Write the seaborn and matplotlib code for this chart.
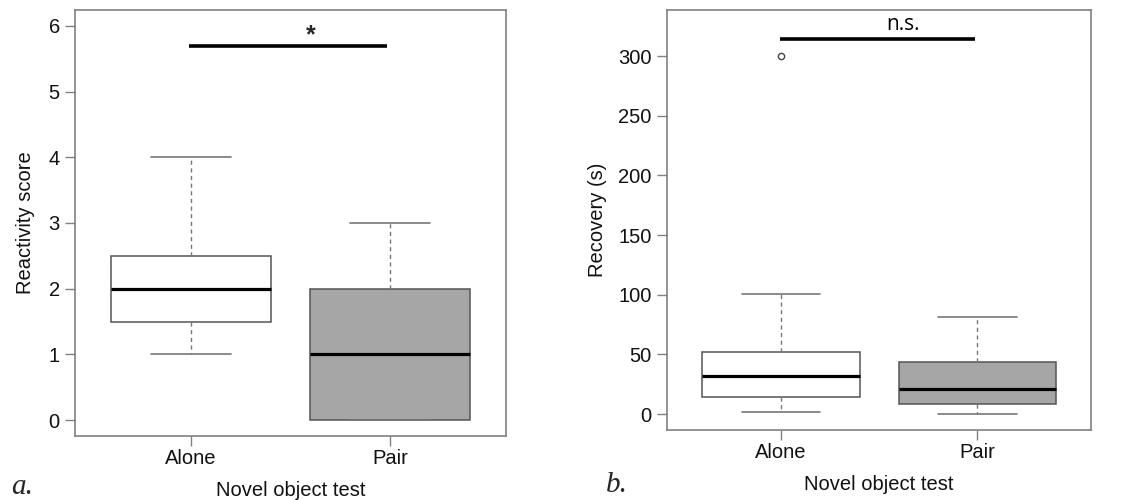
import pandas as pd
import seaborn as sns
import matplotlib
matplotlib.use("Agg")
import matplotlib.pyplot as plt

groups = ["Alone", "Pair"]
reactivity_alone = [1, 1, 2, 2, 2, 3, 4]
reactivity_pair = [0, 0, 0, 1, 2, 2, 3]
recovery_alone = [2, 8, 14, 25, 32, 45, 52, 101, 300]
recovery_pair = [0, 5, 8, 15, 21, 30, 44, 60, 81]
box_colors = ["white", "#a6a6a6"]

def long_df(a, b):
    return pd.DataFrame({
        "group": [groups[0]] * len(a) + [groups[1]] * len(b),
        "value": list(a) + list(b),
    })

df_react = long_df(reactivity_alone, reactivity_pair)
df_rec = long_df(recovery_alone, recovery_pair)

sns.set_style("white")
plt.rcParams['font.family'] = ['Liberation Sans', 'DejaVu Sans']
FS = 14.5

fig = plt.figure(figsize=(11.44, 5), dpi=100)
ax1 = fig.add_axes([0.0656, 0.128, 0.3766, 0.852])
ax2 = fig.add_axes([0.583, 0.140, 0.371, 0.840])

def draw(ax, df):
    sns.boxplot(
        data=df, x="group", y="value", hue="group", palette=box_colors,
        width=0.8, linecolor="#555555", linewidth=1.1, legend=False, ax=ax,
        medianprops=dict(color="black", linewidth=2.3),
        whiskerprops=dict(color="#777777", linestyle=(0, (3, 2.5)), linewidth=1),
        capprops=dict(color="#777777", linewidth=1.2),
        flierprops=dict(marker="o", markerfacecolor="white",
                        markeredgecolor="#444444", markersize=4.5, markeredgewidth=1),
    )
    ax.set_xlim(-0.58, 1.58)
    for s in ax.spines.values():
        s.set_color("#808080")
        s.set_linewidth(1.2)
        s.set_visible(True)
    ax.tick_params(axis="both", direction="out", length=7, width=1,
                   color="#808080", labelsize=FS, labelcolor="#111111", pad=4,
                   left=True, bottom=True)
    ax.tick_params(axis="x", pad=2)
    ax.set_xlabel("Novel object test", fontsize=FS, labelpad=10, color="#111111")

draw(ax1, df_react)
ax1.set_ylim(-0.24, 6.24)
ax1.set_yticks(range(0, 7))
ax1.set_ylabel("Reactivity score", fontsize=FS, labelpad=10, color="#111111")
ax1.plot([-0.01, 0.985], [5.7, 5.7], color="black", lw=2.6, solid_capstyle="butt")
ax1.text(0.6, 5.85, "*", ha="center", va="center", fontsize=18, fontweight="bold")

draw(ax2, df_rec)
ax2.set_ylim(-13.4, 338.6)
ax2.set_yticks(range(0, 301, 50))
ax2.set_ylabel("Recovery (s)", fontsize=FS, labelpad=8, color="#111111")
ax2.plot([-0.005, 0.99], [314, 314], color="black", lw=2.6, solid_capstyle="butt")
ax2.text(0.62, 318, "n.s.", ha="center", va="bottom", fontsize=15,
         family="Open Sans", color="black")

fig.text(0.010, 0.012, "a.", fontsize=21, family="Liberation Serif", style="italic")
fig.text(0.530, 0.016, "b.", fontsize=21, family="Liberation Serif", style="italic")

fig.savefig("out.png", dpi=100)
